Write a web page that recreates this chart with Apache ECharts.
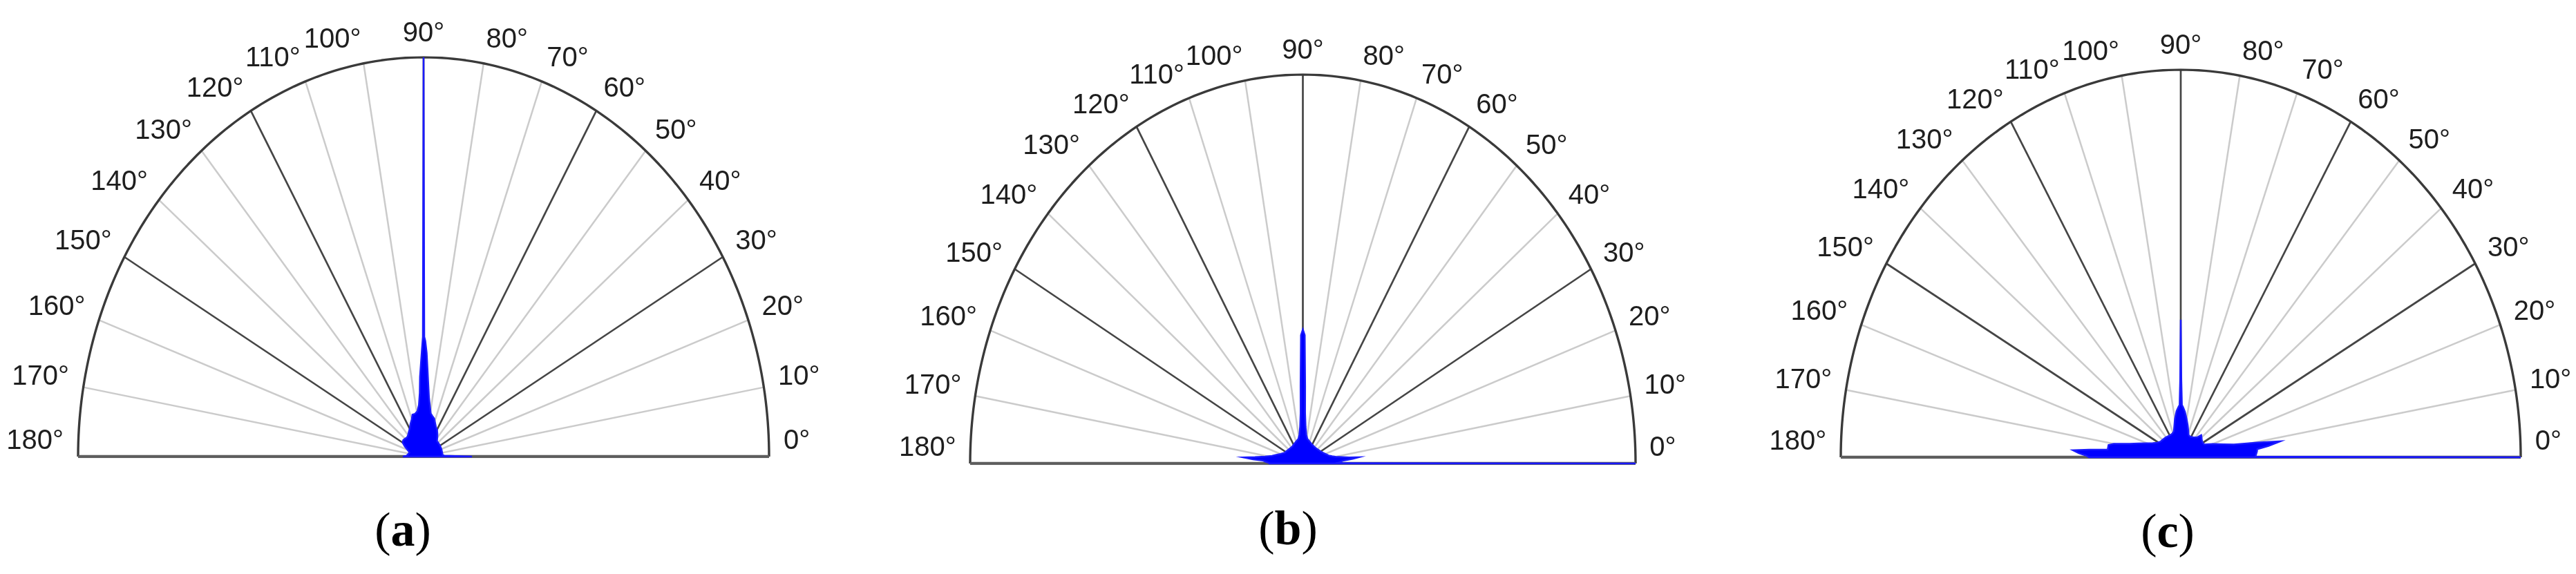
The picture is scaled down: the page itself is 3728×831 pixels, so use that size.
<!DOCTYPE html>
<html><head><meta charset="utf-8">
<script src="https://cdn.jsdelivr.net/npm/echarts@6/dist/echarts.min.js"></script>
<style>html,body{margin:0;padding:0;background:#fff}#c{width:3728px;height:831px}</style>
</head><body><div id="c"></div>
<script>
// ---- tick definitions ----
const tickAngles = [0,10,20,30,40,50,60,70,80,90,100,110,120,130,140,150,160,170,180];
const tickLabels = ['0°','10°','20°','30°','40°','50°','60°','70°','80°','90°','100°','110°','120°','130°','140°','150°','160°','170°','180°'];
const majorAngles = [30,60,90,120,150];
const minorAngles = [10,20,40,50,70,80,100,110,130,140,160,170];
const panelLetters = ['a','b','c'];

// ---- data: orientation distribution (angle in degrees, normalised radius) ----
const angleA = [0,2,5,10,20,30,40,45,50,55,60,64,68,72,76,79,82,84,86,87,88,89,89.6,90,90.4,91,92,93,94,96,99,103,107,110,115,119,125,130,135,140,145,150,155,160,166,172,178,180];
const radiusA = [0.14,0.06,0.055,0.055,0.055,0.055,0.055,0.055,0.062,0.07,0.078,0.082,0.09,0.10,0.105,0.11,0.13,0.15,0.19,0.22,0.26,0.29,0.30,1.0,0.30,0.27,0.23,0.20,0.16,0.13,0.115,0.11,0.11,0.10,0.09,0.082,0.075,0.07,0.068,0.07,0.072,0.07,0.06,0.05,0.042,0.045,0.05,0.06];

const angleB = [0,0.5,1.5,3.3,4.5,5.5,6.5,8,10,12,15,18,24,30,40,51,60,70,78,82,85,87,88,89,90,91,92,93,95,98,102,110,120,126,140,150,153,160,165,168,171,173.5,175,176,176.5,178,179.5,180];
const radiusB = [1.0,0.10,0.11,0.12,0.15,0.17,0.14,0.12,0.10,0.09,0.08,0.075,0.067,0.062,0.057,0.055,0.056,0.06,0.065,0.075,0.095,0.13,0.2,0.33,0.345,0.33,0.2,0.13,0.095,0.075,0.065,0.06,0.056,0.054,0.056,0.06,0.061,0.072,0.085,0.095,0.115,0.145,0.18,0.15,0.12,0.11,0.10,0.10];

const angleC = [0,0.5,2,4,5.3,6.5,8,9.6,11.9,15,20,25.6,30,35,40,43.5,47,55,62,68,72,76,80,84,87,88.5,89.5,90,90.5,91.5,93,96,100,104,107,112,120,131,140,146,152,156,160,164,167,170,171.5,174.7,175.8,176.7,178,179,180];
const radiusC = [1.0,0.22,0.222,0.225,0.226,0.26,0.296,0.228,0.16,0.13,0.10,0.077,0.075,0.076,0.08,0.083,0.07,0.063,0.06,0.062,0.072,0.085,0.10,0.118,0.13,0.135,0.2,0.355,0.2,0.135,0.13,0.12,0.10,0.08,0.07,0.066,0.065,0.068,0.07,0.072,0.08,0.09,0.106,0.13,0.154,0.2,0.215,0.216,0.27,0.318,0.30,0.28,0.27];

// ---- layout (pixels) ----
const panels = [
  {grid:{left:113, top:83, width:1000, height:578}, angles:angleA, radii:radiusA, lx:583, ly:772},
  {grid:{left:1404, top:108, width:963, height:563}, angles:angleB, radii:radiusB, lx:1864, ly:770},
  {grid:{left:2664, top:101, width:984, height:561}, angles:angleC, radii:radiusC, lx:3137, ly:774}
];

const rad = d => d * Math.PI / 180;
const chart = echarts.init(document.getElementById('c'), null, {renderer:'canvas'});

const grids = [], xAxes = [], yAxes = [], series = [], graphics = [];

panels.forEach((p, i) => {
  grids.push(Object.assign({containLabel:false}, p.grid));
  xAxes.push({type:'value', gridIndex:i, min:-1, max:1, show:false});
  yAxes.push({type:'value', gridIndex:i, min:0, max:1, show:false});

  const spoke = (angles, color, width, z) => ({
    type:'custom', xAxisIndex:i, yAxisIndex:i, z:z, silent:true,
    data: angles.map(a => [0, 0, a]),
    renderItem: (params, api) => {
      const a = rad(api.value(2));
      const o = api.coord([0, 0]);
      const e = api.coord([Math.cos(a), Math.sin(a)]);
      return {type:'line', shape:{x1:o[0], y1:o[1], x2:e[0], y2:e[1]},
              style:{stroke:color, lineWidth:width}};
    }
  });
  series.push(spoke(minorAngles, '#cbcbcb', 2.5, 1));
  series.push(spoke(majorAngles, '#454545', 2.7, 2));

  // outer arc
  const arc = [];
  for (let d = 0; d <= 180; d += 1) arc.push([Math.cos(rad(d)), Math.sin(rad(d))]);
  series.push({type:'line', xAxisIndex:i, yAxisIndex:i, data:arc, symbol:'none', silent:true, z:3,
    lineStyle:{color:'#3a3a3a', width:3.4}});
  // base line (0° - 180°)
  series.push({type:'line', xAxisIndex:i, yAxisIndex:i, data:[[-1,0],[1,0]], symbol:'none', silent:true, z:3,
    lineStyle:{color:'#5e5e5e', width:4.5}});

  // distribution polygon
  const pts = p.angles.map((a, k) => [p.radii[k] * Math.cos(rad(a)), p.radii[k] * Math.sin(rad(a))]);
  series.push({
    type:'custom', xAxisIndex:i, yAxisIndex:i, z:5, silent:true,
    data: pts,
    renderItem: (params, api) => {
      if (params.dataIndex !== 0) return null;
      const poly = [api.coord([0, 0])];
      pts.forEach(q => poly.push(api.coord(q)));
      return {type:'polygon', shape:{points:poly},
              style:{fill:'#0000ff', stroke:'#1a1aff', lineWidth:2.4, lineJoin:'miter'}};
    }
  });

  // angle tick labels
  series.push({
    type:'custom', xAxisIndex:i, yAxisIndex:i, z:6, silent:true,
    data: tickAngles.map((a, k) => [0, 0, a, k]),
    renderItem: (params, api) => {
      const deg = api.value(2);
      const a = rad(deg);
      const pos = api.coord([1.042 * Math.cos(a), 1.042 * Math.sin(a)]);
      const align = deg < 90 ? 'left' : (deg > 90 ? 'right' : 'center');
      const dy = (deg === 0 || deg === 180) ? -22 : -10;
      return {type:'text', x:pos[0], y:pos[1] + dy,
        style:{text:tickLabels[api.value(3)], fill:'#1e1e1e', fontSize:40,
               fontFamily:'Liberation Sans, Arial, sans-serif', align:align, verticalAlign:'middle'}};
    }
  });

  graphics.push({type:'text', x:p.lx, y:p.ly, z:10,
    style:{text:'{p|(}{b|' + panelLetters[i] + '}{p|)}', align:'center', verticalAlign:'middle',
      rich:{p:{fontFamily:'Liberation Serif, Times New Roman, serif', fontSize:70, fill:'#000'},
            b:{fontFamily:'Liberation Serif, Times New Roman, serif', fontSize:70, fontWeight:'bold', fill:'#000'}}}});
});

chart.setOption({
  backgroundColor:'#ffffff',
  animation:false,
  grid:grids, xAxis:xAxes, yAxis:yAxes, series:series, graphic:graphics
});
</script>
</body></html>
